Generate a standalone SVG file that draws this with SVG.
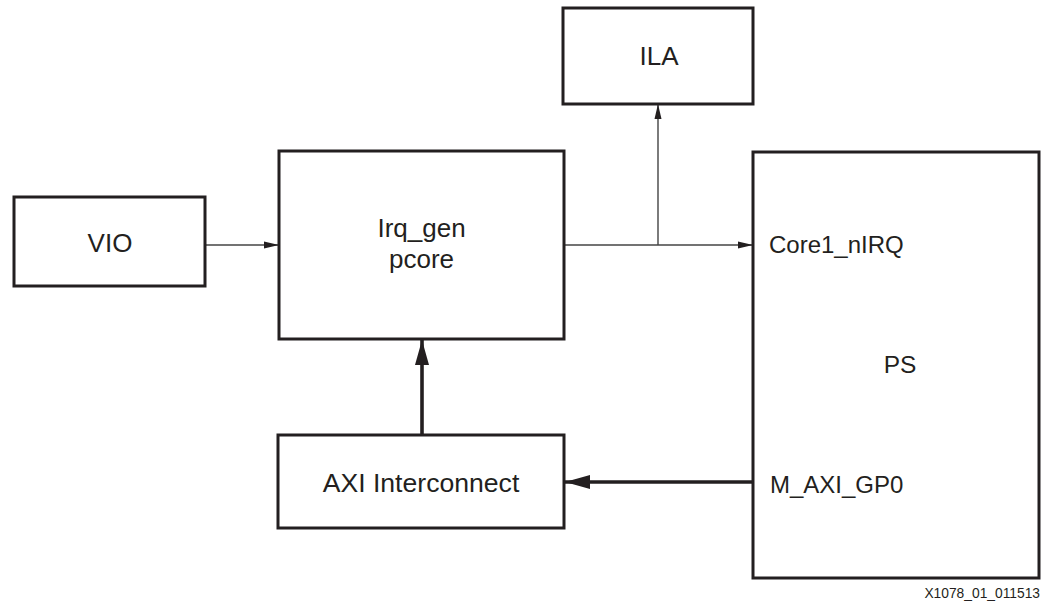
<svg xmlns="http://www.w3.org/2000/svg" width="1047" height="603" viewBox="0 0 1047 603">
<style>
.box{fill:#fff;stroke:#231f20;stroke-width:3}
.lbl{font-family:"Liberation Sans",Arial,sans-serif;font-size:26px;fill:#231f20;text-anchor:middle}
.port{font-family:"Liberation Sans",Arial,sans-serif;font-size:24px;fill:#231f20}
.thin{fill:none;stroke:#444;stroke-width:1.4}
.thick{fill:none;stroke:#231f20;stroke-width:3.6}
.note{font-family:"Liberation Sans",Arial,sans-serif;font-size:13.8px;fill:#231f20;text-anchor:end}
</style>
<defs>
<marker id="a" markerUnits="userSpaceOnUse" markerWidth="16" markerHeight="8" refX="15" refY="4" orient="auto">
<path d="M0,0.5 L15,4 L0,7.5 Z" fill="#231f20"/>
</marker>
<marker id="A" markerUnits="userSpaceOnUse" markerWidth="26" markerHeight="16" refX="25" refY="8" orient="auto">
<path d="M0,1 L25,8 L0,15 Z" fill="#231f20"/>
</marker>
</defs>
<g id="connectors">
<line class="thin" x1="206" y1="245" x2="279" y2="245" marker-end="url(#a)"/>
<line class="thin" x1="564" y1="245" x2="753" y2="245" marker-end="url(#a)"/>
<line class="thin" x1="658" y1="245" x2="658" y2="104" marker-end="url(#a)"/>
<line class="thick" x1="422" y1="435" x2="422" y2="340" marker-end="url(#A)"/>
<line class="thick" x1="753" y1="482" x2="565" y2="482" marker-end="url(#A)"/>
</g>
<g id="ila">
<rect class="box" x="563" y="8" width="190" height="96"/>
<text class="lbl" x="659" y="65">ILA</text>
</g>
<g id="vio">
<rect class="box" x="14" y="197" width="191" height="89"/>
<text class="lbl" x="110" y="252">VIO</text>
</g>
<g id="irq_gen">
<rect class="box" x="279" y="151" width="285" height="188"/>
<text class="lbl" x="421.5" y="237">Irq_gen</text>
<text class="lbl" x="421.5" y="268">pcore</text>
</g>
<g id="axi">
<rect class="box" x="278" y="435" width="286" height="93"/>
<text class="lbl" x="421" y="492" style="font-size:26.6px">AXI Interconnect</text>
</g>
<g id="ps">
<rect class="box" x="753" y="152" width="286" height="426"/>
<text class="port" x="769" y="253">Core1_nIRQ</text>
<text class="port" x="770" y="493">M_AXI_GP0</text>
<text class="lbl" x="900" y="373" style="font-size:24.5px">PS</text>
</g>
<text class="note" x="1040" y="598">X1078_01_011513</text>
</svg>
